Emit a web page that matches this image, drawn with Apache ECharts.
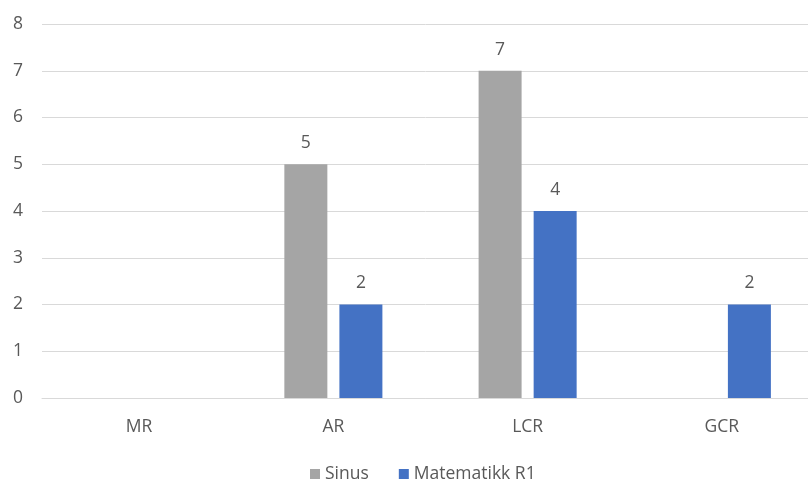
<!DOCTYPE html>
<html>
<head>
<meta charset="utf-8">
<script src="https://cdn.jsdelivr.net/npm/echarts@6/dist/echarts.min.js"></script>
<style>
  html, body { margin: 0; padding: 0; background: #fff; }
  #chart { width: 808px; height: 479px; }
</style>
</head>
<body>
<div id="chart"></div>
<script>
// data
var categories = ['MR', 'AR', 'LCR', 'GCR'];
var sinus = [null, 5, 7, null];
var matematikkR1 = [null, 2, 4, 2];
var yTicks = [0, 1, 2, 3, 4, 5, 6, 7, 8];

var textColor = '#595959';
var font = 'Open Sans';
var fs = 17.5;

var chart = echarts.init(document.getElementById('chart'));

var option = {
    animation: false,
    textStyle: { fontFamily: font },
    grid: {
        left: 42,
        top: 24,
        width: 777,
        height: 374,
        outerBoundsMode: 'none',
        containLabel: false
    },
    legend: {
        left: 305,
        top: 460,
        itemWidth: 10,
        itemHeight: 10,
        itemGap: 30,
        icon: 'rect',
        textStyle: { color: textColor, fontSize: fs, fontFamily: font },
        data: ['Sinus', 'Matematikk R1']
    },
    xAxis: {
        type: 'category',
        data: categories,
        axisLine: { lineStyle: { color: '#d9d9d9' } },
        axisTick: { show: false },
        axisLabel: { color: textColor, fontSize: fs, margin: 20 }
    },
    yAxis: {
        type: 'value',
        min: yTicks[0],
        max: yTicks[yTicks.length - 1],
        interval: 1,
        axisLine: { show: false },
        axisTick: { show: false },
        axisLabel: { color: textColor, fontSize: fs, margin: 19 },
        splitLine: { lineStyle: { color: '#d9d9d9', width: 1 } }
    },
    series: [
        {
            name: 'Sinus',
            type: 'bar',
            data: sinus,
            barWidth: 43,
            barGap: '28%',
            itemStyle: { color: '#a5a5a5' },
            label: { show: true, position: 'top', distance: 12, color: textColor, fontSize: fs }
        },
        {
            name: 'Matematikk R1',
            type: 'bar',
            data: matematikkR1,
            barWidth: 43,
            barGap: '28%',
            itemStyle: { color: '#4472c4' },
            label: { show: true, position: 'top', distance: 12, color: textColor, fontSize: fs }
        }
    ]
};

chart.setOption(option);
</script>
</body>
</html>
